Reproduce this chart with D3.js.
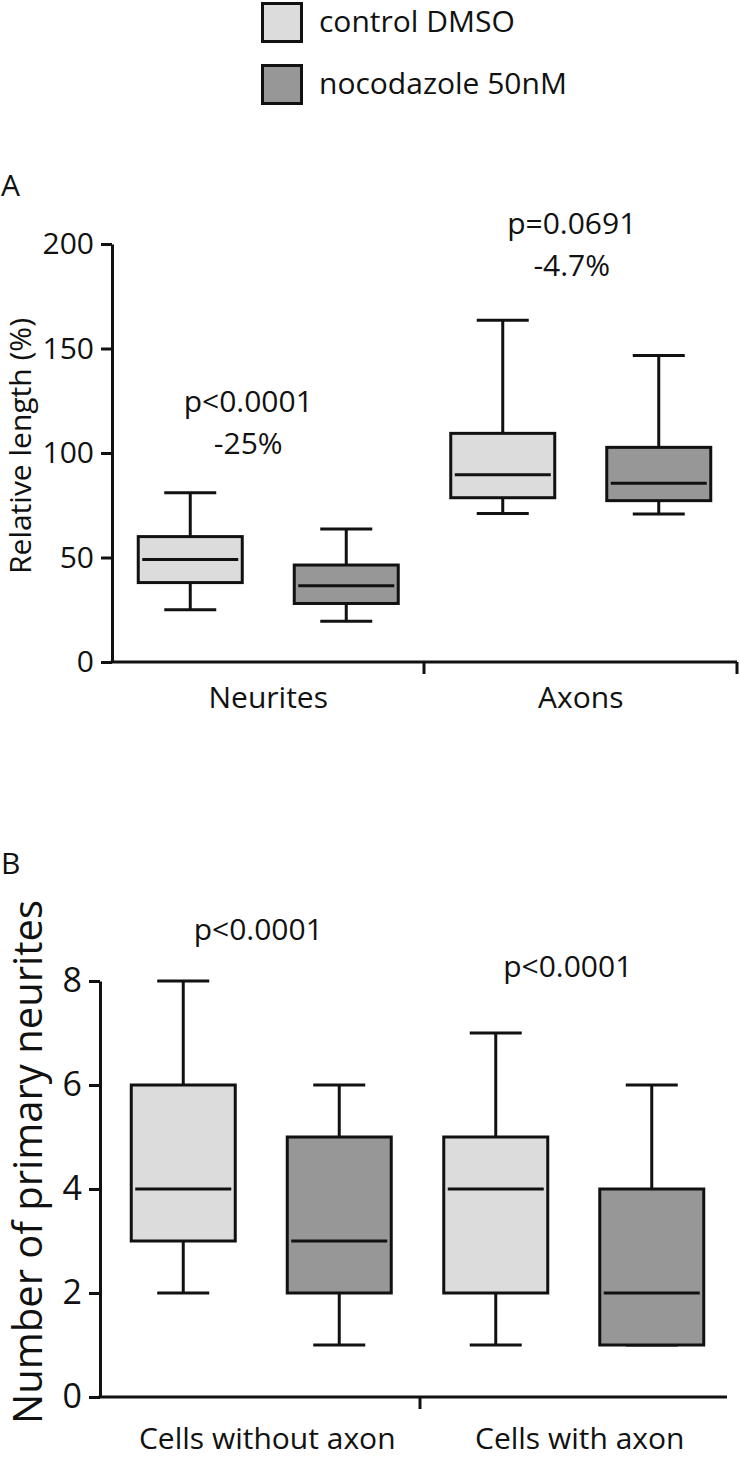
<!DOCTYPE html>
<html>
<head>
<meta charset="utf-8">
<script src="https://cdn.jsdelivr.net/npm/d3@7"></script>
<style>
  body { margin: 0; background: #fff; }
  svg text { font-family: "Open Sans", sans-serif; fill: #111; }
</style>
</head>
<body>
<div id="vis"></div>
<script>
// ---- data ----
const SERIES = ["control DMSO", "nocodazole 50nM"];
const FILLS = ["#dcdcdc", "#979797"];

// panel A : relative length (%), [min, q1, median, q3, max]
const A_GROUPS = ["Neurites", "Axons"];
const A_CONTROL = [[25, 38, 49, 60, 81], [71, 78.6, 89.6, 109.4, 163.5]];
const A_NOCO = [[19.5, 28, 36.5, 46.4, 63.6], [70.8, 77.2, 85.5, 102.7, 146.6]];
const A_TICKS = [0, 50, 100, 150, 200];
const A_NOTES = [["p<0.0001", "-25%"], ["p=0.0691", "-4.7%"]];

// panel B : number of primary neurites
const B_GROUPS = ["Cells without axon", "Cells with axon"];
const B_CONTROL = [[2, 3, 4, 6, 8], [1, 2, 4, 5, 7]];
const B_NOCO = [[1, 2, 3, 5, 6], [1, 1, 2, 4, 6]];
const B_TICKS = [0, 2, 4, 6, 8];
const B_NOTES = ["p<0.0001", "p<0.0001"];

const FRAME_WIDTH = 740;
const FRAME_HEIGHT = 1457;
const FONT = 30;

const SVG = d3.select("#vis")
  .append("svg")
  .attr("width", FRAME_WIDTH)
  .attr("height", FRAME_HEIGHT);

// legend
SERIES.forEach((s, i) => {
  SVG.append("rect")
    .attr("x", 262.5).attr("y", 3.5 + i * 62)
    .attr("width", 39).attr("height", 38)
    .attr("fill", FILLS[i]).attr("stroke", "#111").attr("stroke-width", 3);
  SVG.append("text")
    .attr("x", 319).attr("y", 32 + i * 62)
    .attr("font-size", FONT)
    .text(s);
});

function panel(cfg) {
  const g = SVG.append("g");

  const Y = d3.scaleLinear().domain(cfg.yDomain).range([cfg.y0, cfg.y1]);
  const X = d3.scaleBand().domain(cfg.groups).range(cfg.xRange);
  const OFFSET = d3.scalePoint().domain([0, 1]).range([-78, 78]);

  // y axis
  const yAxis = g.append("g")
    .attr("transform", "translate(" + cfg.axisX + ",0)")
    .call(d3.axisLeft(Y).tickValues(cfg.ticks).tickSize(11).tickSizeOuter(0).tickPadding(7));
  yAxis.select(".domain").attr("stroke-width", 3).attr("stroke", "#111");
  yAxis.selectAll(".tick line").attr("stroke-width", 3).attr("stroke", "#111");
  yAxis.selectAll(".tick text").attr("font-size", cfg.tickFont).attr("font-family", "Open Sans").attr("fill", "#111");

  // x axis line + group labels
  g.append("line")
    .attr("x1", cfg.axisX - 1.5).attr("x2", cfg.axisEnd)
    .attr("y1", cfg.y0).attr("y2", cfg.y0)
    .attr("stroke", "#111").attr("stroke-width", 3);
  cfg.xTicks.forEach((t) => {
    g.append("line")
      .attr("x1", t).attr("x2", t)
      .attr("y1", cfg.y0).attr("y2", cfg.y0 + 12)
      .attr("stroke", "#111").attr("stroke-width", 3);
  });
  cfg.groups.forEach((grp, i) => {
    g.append("text")
      .attr("x", X(grp) + X.bandwidth() / 2 + cfg.labelShift)
      .attr("y", cfg.labelY)
      .attr("text-anchor", "middle")
      .attr("font-size", FONT)
      .text(grp);
  });

  // boxes
  const boxW = 104;
  const capW = 52;
  [cfg.control, cfg.noco].forEach((rows, si) => {
    rows.forEach((v, gi) => {
      const cx = X(cfg.groups[gi]) + X.bandwidth() / 2 + OFFSET(si);
      const b = g.append("g").attr("stroke", "#111").attr("stroke-width", 3);
      // whiskers
      b.append("line").attr("x1", cx).attr("x2", cx).attr("y1", Y(v[4])).attr("y2", Y(v[3]));
      b.append("line").attr("x1", cx).attr("x2", cx).attr("y1", Y(v[1])).attr("y2", Y(v[0]));
      b.append("line").attr("x1", cx - capW / 2).attr("x2", cx + capW / 2).attr("y1", Y(v[4])).attr("y2", Y(v[4]));
      b.append("line").attr("x1", cx - capW / 2).attr("x2", cx + capW / 2).attr("y1", Y(v[0])).attr("y2", Y(v[0]));
      b.append("rect")
        .attr("x", cx - boxW / 2).attr("y", Y(v[3]))
        .attr("width", boxW).attr("height", Y(v[1]) - Y(v[3]))
        .attr("fill", FILLS[si]);
      b.append("line").attr("x1", cx - boxW / 2 + 4).attr("x2", cx + boxW / 2 - 4).attr("y1", Y(v[2])).attr("y2", Y(v[2]));
    });
  });

  // annotations
  cfg.notes.forEach((lines, gi) => {
    [].concat(lines).forEach((txt, li) => {
      g.append("text")
        .attr("x", X(cfg.groups[gi]) + X.bandwidth() / 2 + cfg.noteDx[gi])
        .attr("y", Y(cfg.noteY[gi]) + li * 42)
        .attr("text-anchor", "middle")
        .attr("font-size", FONT)
        .text(txt);
    });
  });

  // panel letter
  SVG.append("text").attr("x", 1).attr("y", cfg.letterY).attr("font-size", FONT).text(cfg.letter);

  // y title
  SVG.append("text")
    .attr("transform", "translate(" + cfg.titleX + "," + cfg.titleY + ") rotate(-90)")
    .attr("text-anchor", "middle")
    .attr("font-size", cfg.titleFont)
    .text(cfg.title);
}

panel({
  letter: "A", letterY: 196,
  groups: A_GROUPS, control: A_CONTROL, noco: A_NOCO,
  yDomain: [0, 200], y0: 662, y1: 244, ticks: A_TICKS, tickFont: 30,
  axisX: 112, axisEnd: 737, xRange: [112, 737], xTicks: [424, 737],
  labelY: 708, labelShift: 0,
  notes: A_NOTES, noteY: [119.6, 204.8], noteDx: [-20, -9],
  title: "Relative length (%)", titleX: 31, titleY: 446, titleFont: 30
});

panel({
  letter: "B", letterY: 874,
  groups: B_GROUPS, control: B_CONTROL, noco: B_NOCO,
  yDomain: [0, 8], y0: 1397, y1: 981, ticks: B_TICKS, tickFont: 34,
  axisX: 100, axisEnd: 727, xRange: [105, 730], xTicks: [420],
  labelY: 1449, labelShift: 6,
  notes: B_NOTES, noteY: [8.79, 8.08], noteDx: [-3, -6],
  title: "Number of primary neurites", titleX: 42, titleY: 1162, titleFont: 40
});
</script>
</body>
</html>
